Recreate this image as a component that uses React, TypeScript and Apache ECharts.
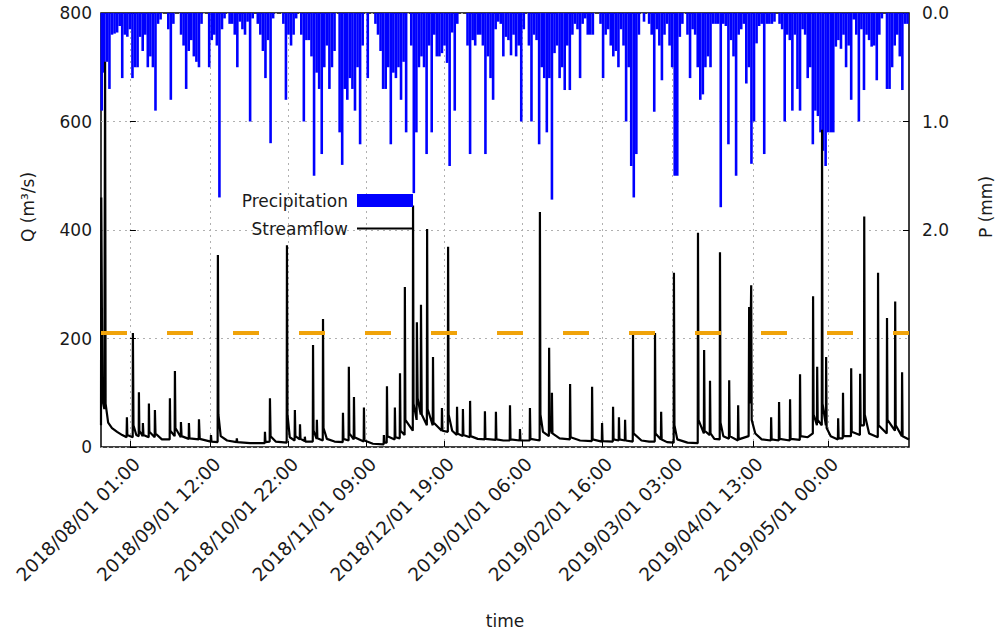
import { useEffect, useRef } from 'react';
import * as echarts from 'echarts';

const FONT = 'DejaVu Sans';
const TEXT = '#1a1a1a';

// Tick labels of the time axis (time is counted in days from 2018/08/01 00:00 UTC)
const tickLabels = [
  '2018/08/01 01:00',
  '2018/09/01 12:00',
  '2018/10/01 22:00',
  '2018/11/01 09:00',
  '2018/12/01 19:00',
  '2019/01/01 06:00',
  '2019/02/01 16:00',
  '2019/03/01 03:00',
  '2019/04/01 13:00',
  '2019/05/01 00:00',
];
const EPOCH = Date.UTC(2018, 7, 1);
const timeMin = -11.3;
const timeMax = 304.6;

// Daily precipitation (mm), first value is day -11
const precipStartDay = -11;
const precipDaily = [
  0.9, 0.55, 0.45, 0.7, 0.2, 0.19, 0.18, 0.12, 0.6, 0.2, 0.22,
  0.15, 0.6, 0.5, 0.5, 0.22, 0.35, 0.2, 0.5, 0.4, 0.5,
  0.9, 0.1, 0.06, 0, 0, 0.15, 0.8, 0.1, 0, 0,
  0.2, 0.3, 0.7, 0.35, 0.25, 0.4, 0.45, 0.5, 0.1, 0,
  0, 0.5, 0.25, 0.2, 0.3, 1.7, 0.15, 0.05, 0, 0.1,
  0.1, 0.2, 0.5, 0.08, 0.15, 0.2, 0.08, 1.0, 0.05, 0,
  0.1, 0.2, 0.35, 0.6, 0.25, 1.2, 0.05, 0, 0, 0,
  0.1, 0.8, 0.2, 0.3, 0.2, 0.05, 0, 0.2, 1.0, 0.25,
  0.25, 0.4, 1.5, 0.55, 0.7, 1.3, 0.5, 0.3, 0.7, 0.5,
  0.35, 0, 1.1, 1.4, 0.7, 0.8, 0.6, 0.7, 0.9, 0.5,
  1.21, 0.3, 0, 0.6, 0, 0, 0.1, 0.2, 0.35, 0.7,
  0.7, 0.5, 1.21, 0.55, 0.6, 0.5, 0.8, 0.45, 1.1, 0,
  0.3, 1.66, 1.1, 0.5, 0.4, 0.5, 1.3, 0.3, 1.1, 0.2,
  0.4, 0.4, 0.37, 0.3, 0.46, 1.41, 0.18, 0.9, 0.1, 0,
  0, 0, 0.3, 1.3, 0.25, 0.3, 0.2, 0.2, 0.3, 1.3,
  0.4, 0.6, 0.8, 0.15, 0.08, 0.1, 0.4, 0.22, 0.25, 0.39,
  0.2, 0.4, 0.3, 1.0, 0.15, 0, 0.3, 1.0, 0.2, 0.25,
  1.21, 0.5, 0.6, 1.1, 0.6, 1.72, 0.37, 0.3, 0.6, 0.5,
  0.71, 0.3, 0.71, 0.2, 0.1, 0.15, 0.6, 0.1, 0.05, 0.2,
  0.2, 0.2, 0, 0, 0.1, 0.6, 0.2, 0.15, 0.3, 0.4,
  0.35, 0.5, 0.15, 0.3, 1.0, 0.5, 1.41, 1.7, 1.3, 0.2,
  0, 0.08, 0, 0.1, 0.2, 0.91, 0.15, 0.3, 0.62, 0.2,
  0.1, 0.3, 0.5, 1.5, 1.5, 0.22, 0.1, 0, 0.2, 0.6,
  0.15, 0.2, 0.5, 0.8, 0.75, 0.5, 0.4, 0.5, 0.1, 0.1,
  0.1, 1.79, 0.1, 0.12, 1.21, 0.25, 0.4, 1.5, 0.2, 0.15,
  0.1, 0.65, 0.5, 1.39, 1.0, 0.28, 0.12, 0.1, 1.3, 0.1,
  0.1, 0.1, 0.08, 0, 0.1, 0.15, 1.0, 0.2, 0.25, 0.9,
  0.2, 0.7, 0.9, 0.15, 0.2, 0.6, 0.5, 1.21, 0.9, 0.95,
  1.1, 1.27, 1.41, 1.1, 1.1, 1.1, 0.31, 0.25, 0.33, 0.2,
  0.5, 0.3, 0.8, 0.06, 0.2, 1.0, 0.15, 0.71, 0.2, 0.25,
  0.31, 0.3, 0.62, 0.2, 0.05, 0, 0.7, 0.7, 0.5, 0.3,
  0.2, 0.4, 0.71, 0.1, 0.1,
];

// Streamflow record [day, Q m3/s]
const streamflow: [number, number][] = [
  [-11.3, 40], [-11.2, 460], [-11.0, 300], [-10.8, 90], [-10.0, 70], [-9.7, 710], [-9.5, 80],
  [-8.5, 45], [-7, 35], [-5, 28], [-3, 22], [-1.3, 18], [-1.17, 55], [-1.0, 22],
  [1.1, 18], [1.17, 210], [1.4, 40], [2.5, 22], [3.45, 20], [3.52, 101], [3.7, 30],
  [5.0, 20], [5.08, 44], [5.3, 22], [7.35, 18], [7.43, 80], [7.6, 28], [9.7, 18], [9.78, 68], [10.0, 25],
  [12.5, 14], [15.55, 14], [15.64, 90], [15.8, 30], [17.5, 20], [17.6, 140], [17.8, 35],
  [19.9, 18], [19.95, 46], [20.2, 20], [23.0, 15], [23.07, 44], [23.3, 16], [26.9, 14], [27.0, 51], [27.3, 15],
  [31.6, 10], [31.7, 22], [31.9, 10], [34.3, 9], [34.4, 354], [34.6, 60], [35.5, 20], [38, 12],
  [41.7, 9], [41.8, 16], [42, 9], [47, 7], [52.7, 7], [52.8, 28], [53.0, 9], [54.65, 10], [54.75, 90], [55.0, 20],
  [57, 10], [61.3, 8], [61.4, 372], [61.6, 60], [62.5, 18], [64.4, 12], [64.5, 68], [64.7, 20],
  [66.4, 14], [66.5, 42], [66.7, 15], [68.3, 11], [68.4, 19], [68.6, 10], [71.5, 10], [71.6, 188], [71.8, 30],
  [73.0, 15], [73.1, 50], [73.3, 16], [75.4, 12], [75.5, 236], [75.7, 35], [77, 15], [80, 10],
  [83.2, 9], [83.3, 63], [83.5, 15], [85.5, 12], [85.6, 148], [85.8, 25], [87.5, 14], [87.6, 92], [87.8, 18],
  [91.4, 10], [91.5, 73], [91.7, 12], [95, 6], [99.2, 5], [99.3, 22], [99.5, 8], [100.4, 8], [100.5, 112], [100.7, 20],
  [103.5, 14], [103.6, 73], [103.8, 18], [105.5, 16], [105.6, 136], [105.8, 30], [107.4, 22], [107.5, 295], [107.7, 50],
  [110.6, 30], [110.7, 445], [110.9, 80], [112.1, 50], [112.2, 230], [112.5, 90], [113.7, 60], [113.8, 262], [114.1, 60],
  [116.1, 40], [116.2, 402], [116.4, 70], [118.4, 40], [118.5, 166], [118.7, 45], [121.9, 30], [122.0, 72], [122.2, 30],
  [124.3, 28], [124.4, 369], [124.6, 60], [126, 30], [127.8, 22], [127.9, 74], [128.1, 25], [130.1, 20], [130.2, 70], [130.4, 22],
  [132.9, 18], [133.0, 85], [133.2, 20], [136, 15], [138.7, 14], [138.8, 66], [139.0, 15], [143.0, 13], [143.1, 65], [143.3, 14],
  [146, 12], [148.5, 12], [148.6, 77], [148.8, 14], [152.4, 12], [152.5, 33], [152.7, 12], [156.3, 12], [156.4, 72], [156.6, 15],
  [160.2, 12], [160.3, 433], [160.5, 60], [161.5, 28], [163.8, 20], [163.9, 183], [164.1, 40], [164.9, 25], [165.0, 100], [165.2, 25],
  [168, 16], [172.0, 14], [172.1, 116], [172.3, 18], [176, 12], [180.6, 11], [180.7, 111], [180.9, 14],
  [184.5, 10], [184.6, 44], [184.8, 11], [188.8, 10], [188.9, 74], [189.1, 14], [191.1, 12], [191.2, 55], [191.4, 14],
  [193.5, 12], [193.6, 50], [193.8, 12], [196.6, 10], [196.7, 210], [196.9, 25], [200, 12], [203, 10],
  [205.2, 10], [205.3, 210], [205.5, 25], [207.6, 14], [207.7, 65], [207.9, 14], [210, 9],
  [212.6, 8], [212.7, 321], [212.9, 40], [214, 14], [218, 8], [222.0, 7], [222.1, 395], [222.3, 50],
  [224.4, 25], [224.5, 179], [224.7, 30], [226.7, 22], [226.8, 122], [227.0, 25], [228.5, 15],
  [230.6, 14], [230.7, 359], [230.9, 45], [232, 20], [234.2, 15], [234.3, 123], [234.5, 20],
  [237.7, 12], [237.8, 77], [238.0, 14], [241.9, 20], [242.1, 258], [242.3, 80], [242.9, 298], [243.1, 50], [244.5, 25],
  [247, 14], [250.6, 12], [250.7, 55], [250.9, 14], [253.7, 12], [253.8, 83], [254.0, 15], [258.0, 12], [258.1, 88], [258.3, 15],
  [261.9, 13], [262.0, 134], [262.2, 20], [265, 18], [267.0, 25], [267.1, 278], [267.3, 60], [268.6, 40], [268.7, 148], [268.9, 50],
  [270.5, 40], [270.6, 585], [270.8, 80], [272.1, 40], [272.2, 166], [272.4, 35], [274, 20],
  [276.8, 14], [276.9, 53], [277.1, 16], [278.7, 16], [278.8, 100], [279.0, 20], [281.9, 20], [282.0, 145], [282.2, 28],
  [285.4, 22], [285.5, 135], [285.7, 40], [287.0, 40], [287.1, 425], [287.3, 60], [289, 25],
  [292.4, 18], [292.5, 321], [292.7, 40], [295.9, 25], [296.0, 238], [296.2, 50], [299.1, 30], [299.2, 268], [299.4, 40],
  [301.8, 20], [301.9, 138], [302.1, 20], [304.6, 14],
];

// Left axis (Q) and right axis (P) settings
const qMin = 0;
const qMax = 800;
const qInterval = 200;
const pMax = 4;
const pLabelValues = [0, 1, 2];
const thresholdQ = 210;
const qTitle = 'Q (m³/s)';
const pTitle = 'P (mm)';

function parseTick(s: string): number {
  const [date, time] = s.split(' ');
  const [y, m, d] = date.split('/').map(Number);
  const [hh, mm] = time.split(':').map(Number);
  return (Date.UTC(y, m - 1, d, hh, mm) - EPOCH) / 86400000;
}

const tickDays = tickLabels.map(parseTick);

export default function App() {
  const ref = useRef<HTMLDivElement>(null);

  useEffect(() => {
    if (!ref.current) return;
    const chart = echarts.init(ref.current, undefined, { renderer: 'svg' });

    const labelStyle = { color: TEXT, fontFamily: FONT, fontSize: 17 };
    const dotted = { color: '#b0b0b0', width: 1, type: [2, 4] as number[] };
    const titleStyle = {
      fill: TEXT,
      font: `17px "${FONT}"`,
      align: 'center',
      verticalAlign: 'middle',
    };

    chart.setOption({
      animation: false,
      backgroundColor: '#fff',
      textStyle: { fontFamily: FONT },
      grid: {
        left: 101,
        right: 91,
        top: 13,
        bottom: 187,
        show: true,
        borderColor: '#000',
        borderWidth: 1.5,
        backgroundColor: 'transparent',
      },
      // rotated axis titles, reading bottom to top
      graphic: [
        { type: 'text', x: 28, y: 207, rotation: Math.PI / 2, style: { ...titleStyle, text: qTitle } },
        { type: 'text', x: 986, y: 207, rotation: Math.PI / 2, style: { ...titleStyle, text: pTitle } },
      ],
      legend: [
        {
          data: ['Precipitation'],
          orient: 'vertical',
          align: 'right',
          right: 587,
          top: 192,
          padding: 0,
          icon: 'rect',
          itemWidth: 56,
          itemHeight: 13,
          selectedMode: false,
          textStyle: { ...labelStyle, padding: [0, 4, 0, 0] },
        },
        {
          data: ['Streamflow'],
          orient: 'vertical',
          align: 'right',
          right: 587,
          top: 220,
          padding: 0,
          icon: 'rect',
          itemWidth: 56,
          itemHeight: 2,
          selectedMode: false,
          textStyle: { ...labelStyle, padding: [0, 4, 0, 0] },
        },
      ],
      xAxis: {
        type: 'value',
        min: timeMin,
        max: timeMax,
        name: 'time',
        nameLocation: 'middle',
        nameGap: 165,
        nameTextStyle: labelStyle,
        axisLine: { show: false },
        axisTick: { show: true, inside: true, length: 6, customValues: tickDays, lineStyle: { color: '#000' } },
        axisLabel: {
          customValues: tickDays,
          rotate: 45,
          margin: 7,
          ...labelStyle,
          fontSize: 18.5,
          align: 'right',
          verticalAlign: 'top',
          formatter: (v: number) => {
            const i = tickDays.findIndex((t) => Math.abs(t - v) < 1e-6);
            return i >= 0 ? tickLabels[i] : '';
          },
        },
        splitLine: { show: true, lineStyle: dotted },
      },
      yAxis: [
        {
          type: 'value',
          min: qMin,
          max: qMax,
          interval: qInterval,
          axisLine: { show: false },
          axisTick: { show: true, inside: true, length: 6, lineStyle: { color: '#000' } },
          axisLabel: { ...labelStyle, margin: 9 },
          splitLine: { show: true, lineStyle: dotted },
        },
        {
          type: 'value',
          min: 0,
          max: pMax,
          inverse: true,
          position: 'right',
          axisLine: { show: false },
          axisTick: { show: true, inside: true, length: 6, customValues: pLabelValues, lineStyle: { color: '#000' } },
          axisLabel: {
            ...labelStyle,
            margin: 13,
            customValues: pLabelValues,
            formatter: (v: number) => v.toFixed(1),
          },
          splitLine: { show: false },
        },
      ],
      series: [
        {
          name: 'Precipitation',
          type: 'bar',
          yAxisIndex: 1,
          barWidth: 2.6,
          itemStyle: { color: '#0000ff' },
          data: precipDaily.map((v, i) => [precipStartDay + i, v]),
          z: 2,
        },
        {
          name: 'Streamflow',
          type: 'line',
          yAxisIndex: 0,
          showSymbol: false,
          symbol: 'none',
          color: '#000',
          itemStyle: { color: '#000' },
          lineStyle: { color: '#000', width: 2.2 },
          data: streamflow,
          z: 3,
          markLine: {
            silent: true,
            symbol: 'none',
            label: { show: false },
            lineStyle: { color: '#f0a30a', width: 4, type: [26, 40] },
            data: [{ yAxis: thresholdQ }],
          },
        },
      ],
    });

    return () => chart.dispose();
  }, []);

  return (
    <div
      ref={ref}
      style={{ position: 'fixed', left: 0, top: 0, width: 1000, height: 634, background: '#fff' }}
    />
  );
}
